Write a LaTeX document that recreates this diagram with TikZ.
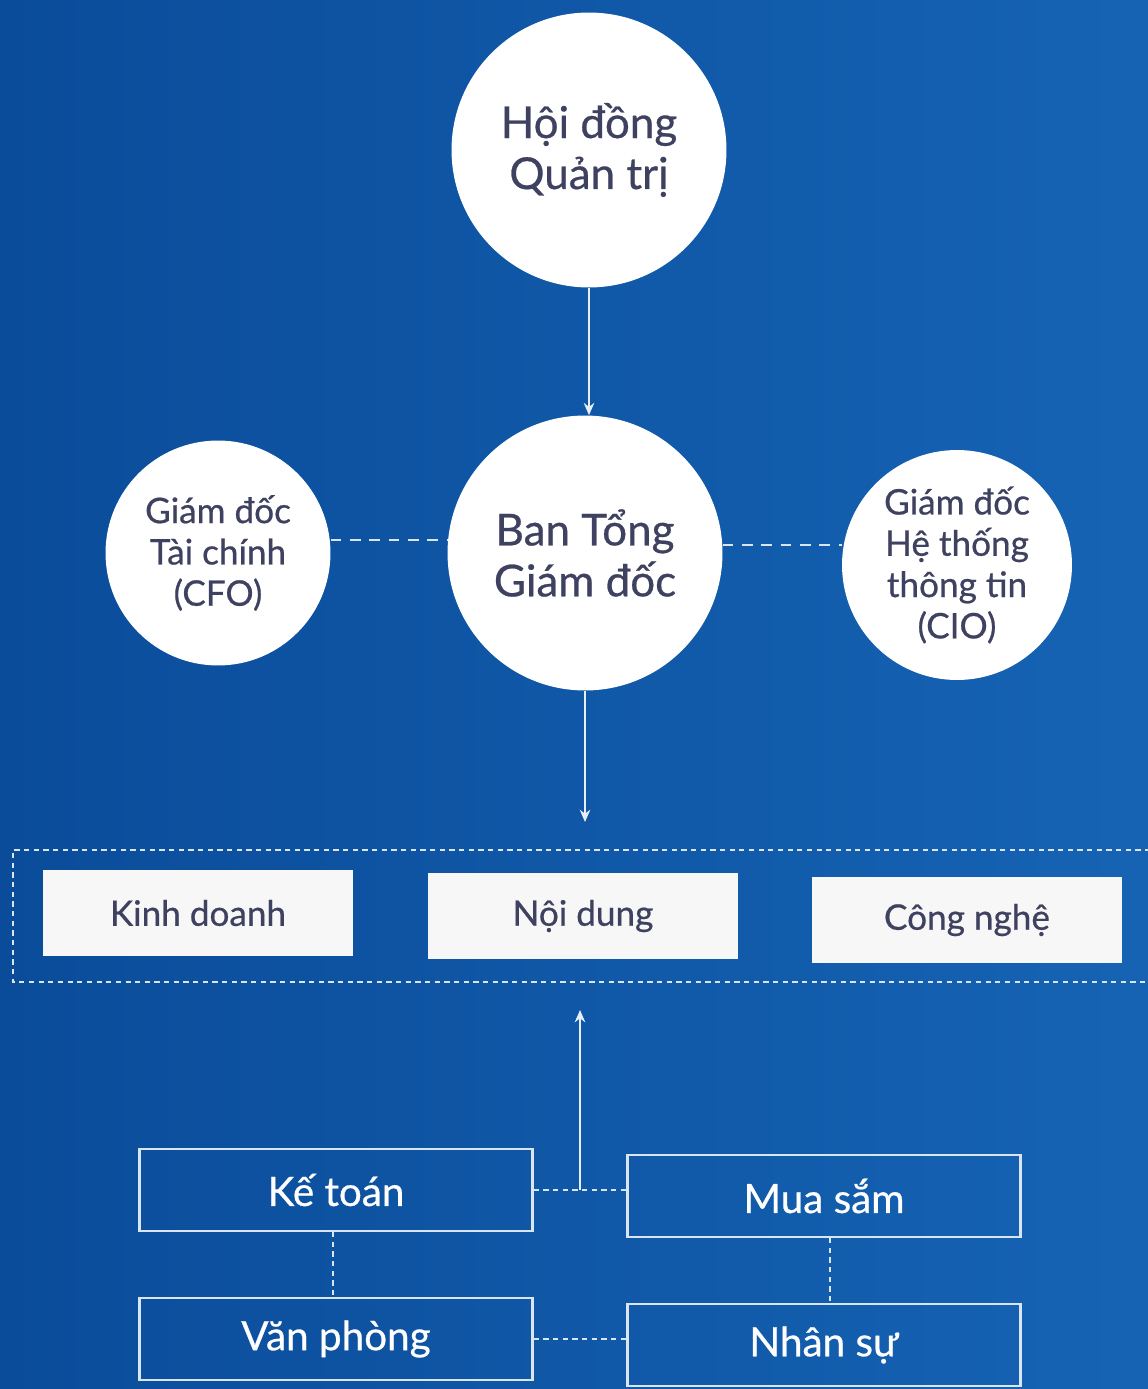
\documentclass[tikz,border=0pt]{standalone}
\usepackage{fontspec}
\setmainfont{Lato}[UprightFeatures={FakeBold=0.6}]
\usepackage{tikz}
\usetikzlibrary{arrows.meta}
\definecolor{BG}{HTML}{0B55A6}
\definecolor{BGL}{HTML}{0A4C9A}
\definecolor{BGR}{HTML}{1663B4}
\definecolor{INK}{HTML}{3E4160}
\definecolor{BOX}{HTML}{F7F7F7}

\begin{document}
\begin{tikzpicture}[x=0.02cm, y=-0.02cm,
  bigcircle/.style={circle, fill=white, minimum size=5.5cm, inner sep=0pt, align=center, text=INK, font=\fontsize{25}{29}\selectfont},
  sidecircle/.style={circle, fill=white, minimum size=4.5cm, inner sep=0pt, align=center, text=INK, font=\fontsize{20}{23.5}\selectfont},
  whitebox/.style={rectangle, fill=BOX, minimum width=6.2cm, minimum height=1.72cm, text=INK, font=\fontsize{20}{24}\selectfont},
  linebox/.style={rectangle, draw=white!85!BG, line width=1.3pt, minimum width=7.86cm, minimum height=1.64cm, text=white, font=\fontsize{23}{27}\selectfont},
  dashlink/.style={draw=white!85!BG, line width=1.2pt, dash pattern=on 6pt off 5pt},
  dotlink/.style={draw=white!85!BG, line width=1pt, dash pattern=on 3pt off 2.5pt},
  arrowlink/.style={draw=white!90!BG, line width=0.9pt, -{Stealth[length=7pt, width=6pt]}}]
% background
\shade[left color=BGL, right color=BGR] (0,0) rectangle (1148,1389);
\useasboundingbox (0,0) rectangle (1148,1389);
% circles
\node[bigcircle] (board) at (589,150) {Hội đồng\\Quản trị};
\node[bigcircle] (ceo) at (585,553) {Ban Tổng\\Giám đốc};
\node[sidecircle] (cfo) at (218,553) {Giám đốc\\Tài chính\\(CFO)};
\node[sidecircle, minimum size=4.6cm] (cio) at (957,565) {Giám đốc\\Hệ thống\\thông tin\\(CIO)};
\draw[arrowlink] (board.south) -- (board.south |- ceo.north);
\draw[dashlink] (cfo.east |- 0,540) -- (ceo.west |- 0,540);
\draw[dashlink] (ceo.east |- 0,545) -- (cio.west |- 0,545);
% departments
\draw[dotlink] (1160,850) -- (13,850) -- (13,982) -- (1160,982);
\node[whitebox] (sales) at (198,913) {Kinh doanh};
\node[whitebox] (content) at (583,916) {Nội dung};
\node[whitebox] (tech) at (967,920) {Công nghệ};
\coordinate (top) at (585,822);
\draw[arrowlink] (ceo.south) -- (top);
% support units
\node[linebox] (acc) at (336,1190) {Kế toán};
\node[linebox] (buy) at (824,1196) {Mua sắm};
\node[linebox] (office) at (336,1339) {Văn phòng};
\node[linebox] (hr) at (824,1345) {Nhân sự};
\coordinate (joint) at (580,1190);
\coordinate (up) at (580,1010);
\draw[dotlink] (acc.east) -- (buy.west |- acc.east);
\draw[arrowlink] (joint) -- (up);
\draw[dotlink] (acc.south -| 333,0) -- (office.north -| 333,0);
\draw[dotlink] (buy.south -| 830,0) -- (hr.north -| 830,0);
\draw[dotlink] (office.east) -- (hr.west |- office.east);
\end{tikzpicture}
\end{document}
